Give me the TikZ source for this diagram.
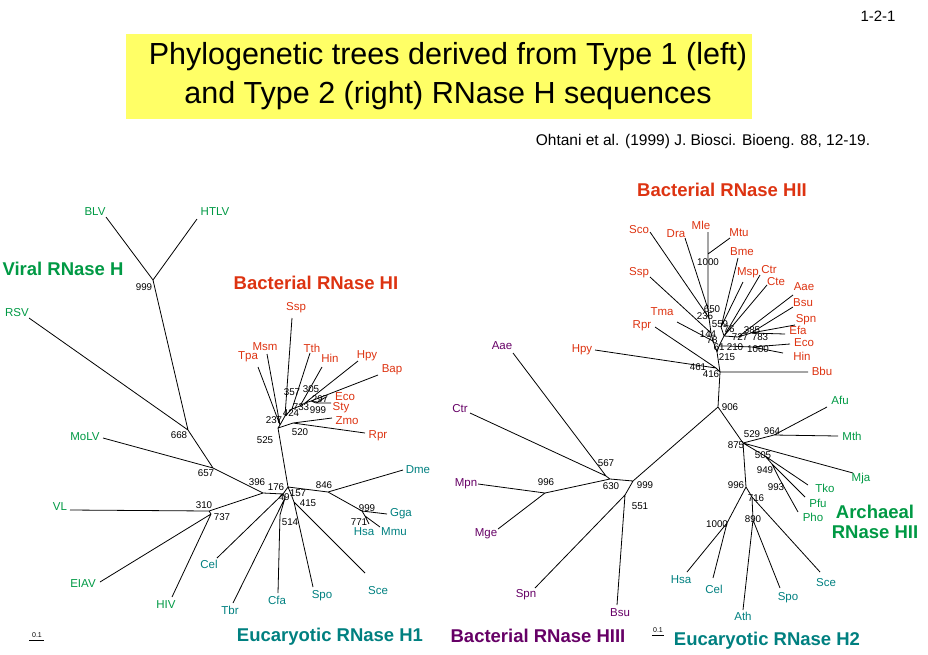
\documentclass[tikz,border=0pt]{standalone}
\usepackage{fontspec}
\setmainfont{Liberation Sans}
\usetikzlibrary{positioning}
\definecolor{virgreen}{RGB}{0,153,68}
\definecolor{bacred}{RGB}{221,51,17}
\definecolor{eucteal}{RGB}{0,128,128}
\definecolor{bacpurple}{RGB}{102,0,102}
\definecolor{titleyellow}{RGB}{255,255,102}

\begin{document}
\begin{tikzpicture}[x=1pt, y=-1pt,
    leaf/.style={inner sep=0pt, text=#1, font=\fontsize{11.5}{12}\selectfont},
    boot/.style={inner sep=0pt, font=\fontsize{9.8}{10}\selectfont},
    group/.style={inner sep=0pt, text=#1, align=center, font=\fontsize{18.5}{20}\selectfont\bfseries},
    branch/.style={line width=0.8pt}]
    \useasboundingbox (0,0) rectangle (928,654);

    % header
    \fill[titleyellow] (126,34) rectangle (752,119);
    \node[align=center, font=\fontsize{30.5}{39}\selectfont] (title) at (448,76) {Phylogenetic trees derived from Type 1 (left)\\and Type 2 (right) RNase H sequences};
    \node[inner sep=0pt, font=\fontsize{15}{16}\selectfont] (page) at (878,16) {1-2-1};
    \node[inner sep=0pt, font=\fontsize{15.5}{17}\selectfont] (cite) at (703,141) {Ohtani et al. (1999) J. Biosci. Bioeng. 88, 12-19.};

    % ---------- Type 1 tree ----------
    \coordinate (v999) at (153,280);  \coordinate (v668) at (188,430);
    \coordinate (v657) at (213,468);  \coordinate (v396) at (263,493);
    \coordinate (v310) at (209,511);  \coordinate (v737) at (211,514);
    \coordinate (v176) at (283,494);  \coordinate (v49) at (285,498);
    \coordinate (v514) at (280,515);  \coordinate (c1) at (288,487);
    \coordinate (v157) at (291,494);  \coordinate (v415) at (294,502);
    \coordinate (v846) at (328,492);  \coordinate (v999e) at (362,511);
    \coordinate (v771) at (365,516);  \coordinate (v525) at (278,428);
    \coordinate (v237) at (280,425);  \coordinate (v520) at (293,423);
    \coordinate (v424) at (285,416);  \coordinate (v357) at (292,409);
    \coordinate (v733) at (300,406);  \coordinate (v305) at (305,403);
    \coordinate (v297) at (311,401);  \coordinate (v999b) at (316,403);

    % leaf tips
    \coordinate (tBLV) at (106,217);  \coordinate (tHTLV) at (197,219);
    \coordinate (tRSV) at (29,318);   \coordinate (tMoLV) at (103,438);
    \coordinate (tVL) at (70,510);    \coordinate (tEIAV) at (100,582);
    \coordinate (tHIV) at (172,597);  \coordinate (tCel) at (217,558);
    \coordinate (tTbr) at (233,603);  \coordinate (tCfa) at (278,593);
    \coordinate (tSpo) at (313,587);  \coordinate (tSce) at (365,573);
    \coordinate (tDme) at (403,470);  \coordinate (tGga) at (387,514);
    \coordinate (tHsa) at (369,524);  \coordinate (tMmu) at (380,527);
    \coordinate (tTpa) at (258,367);  \coordinate (tMsm) at (267,354);
    \coordinate (tSsp) at (292,318);  \coordinate (tTth) at (310,353);
    \coordinate (tHin) at (322,367);  \coordinate (tHpy) at (358,361);
    \coordinate (tBap) at (378,375);  \coordinate (tEco) at (326,397);
    \coordinate (tSty) at (331,403);  \coordinate (tZmo) at (332,418);
    \coordinate (tRpr) at (365,433);

    \draw[branch] (v999) -- (tBLV) (v999) -- (tHTLV) (v999) -- (v668)
        (v668) -- (tRSV) (v668) -- (v657) (v657) -- (tMoLV) (v657) -- (v396)
        (v396) -- (v310) (v310) -- (tVL) (v310) -- (v737)
        (v737) -- (tEIAV) (v737) -- (tHIV)
        (v396) -- (v176) (v176) -- (tCel) (v176) -- (c1) (v176) -- (v49)
        (v49) -- (tTbr) (v49) -- (v514) (v514) -- (tCfa)
        (c1) -- (v157) (v157) -- (v415) (v415) -- (tSpo) (v415) -- (tSce)
        (c1) -- (v846) (v846) -- (tDme) (v846) -- (v999e) (v999e) -- (tGga)
        (v999e) -- (v771) (v771) -- (tHsa) (v771) -- (tMmu)
        (c1) -- (v525) (v525) -- (v237) (v237) -- (tTpa) (v237) -- (tMsm)
        (v525) -- (v520) (v520) -- (tZmo) (v520) -- (tRpr)
        (v237) -- (v424) (v424) -- (tSsp) (v424) -- (v357) (v357) -- (tTth)
        (v357) -- (v733) (v733) -- (tHin) (v733) -- (v305) (v305) -- (tHpy)
        (v305) -- (v297) (v297) -- (tBap) (v297) -- (v999b)
        (v999b) -- (tEco) (v999b) -- (tSty);

    \node[leaf=virgreen] (BLV) at (95,212) {BLV};
    \node[leaf=virgreen] (HTLV) at (215,212) {HTLV};
    \node[leaf=virgreen] (RSV) at (17,313) {RSV};
    \node[leaf=virgreen] (MoLV) at (85,437) {MoLV};
    \node[leaf=virgreen] (VL) at (60,507) {VL};
    \node[leaf=virgreen] (EIAV) at (83,584) {EIAV};
    \node[leaf=virgreen] (HIV) at (166,605) {HIV};
    \node[leaf=eucteal] (Cel) at (209,564) {Cel};
    \node[leaf=eucteal] (Tbr) at (230,610) {Tbr};
    \node[leaf=eucteal] (Cfa) at (277,600) {Cfa};
    \node[leaf=eucteal] (Spo) at (322,596) {Spo};
    \node[leaf=eucteal] (Sce) at (378,591) {Sce};
    \node[leaf=eucteal] (Dme) at (418,470) {Dme};
    \node[leaf=eucteal] (Gga) at (401,514) {Gga};
    \node[leaf=eucteal] (Hsa) at (364,532) {Hsa};
    \node[leaf=eucteal] (Mmu) at (394,532) {Mmu};
    \node[leaf=bacred] (Tpa) at (248,357) {Tpa};
    \node[leaf=bacred] (Msm) at (265,347) {Msm};
    \node[leaf=bacred] (Ssp) at (296,308) {Ssp};
    \node[leaf=bacred] (Tth) at (312,348) {Tth};
    \node[leaf=bacred] (Hin) at (330,358) {Hin};
    \node[leaf=bacred] (Hpy) at (367,356) {Hpy};
    \node[leaf=bacred] (Bap) at (392,370) {Bap};
    \node[leaf=bacred] (Eco) at (345,397) {Eco};
    \node[leaf=bacred] (Sty) at (341,408) {Sty};
    \node[leaf=bacred] (Zmo) at (347,421) {Zmo};
    \node[leaf=bacred] (Rpr) at (378,436) {Rpr};

    \node[boot] (b999) at (144,287) {999};
    \node[boot] (b668) at (179,435) {668};
    \node[boot] (b657) at (206,473) {657};
    \node[boot] (b396) at (257,482) {396};
    \node[boot] (b176) at (276,487) {176};
    \node[boot] (b49) at (284,497) {49};
    \node[boot] (b157) at (298,493) {157};
    \node[boot] (b415) at (308,503) {415};
    \node[boot] (b514) at (290,522) {514};
    \node[boot] (b846) at (324,485) {846};
    \node[boot] (b999e) at (367,508) {999};
    \node[boot] (b771) at (359,522) {771};
    \node[boot] (b310) at (204,505) {310};
    \node[boot] (b737) at (222,517) {737};
    \node[boot] (b525) at (265,440) {525};
    \node[boot] (b237) at (274,420) {237};
    \node[boot] (b424) at (291,413) {424};
    \node[boot] (b357) at (292,392) {357};
    \node[boot] (b305) at (311,389) {305};
    \node[boot] (b297) at (320,399) {297};
    \node[boot] (b733) at (301,407) {733};
    \node[boot] (b999b) at (318,410) {999};
    \node[boot] (b520) at (300,432) {520};

    % ---------- Type 2 tree ----------
    \coordinate (nB) at (720,372);     \coordinate (n461) at (716,368);
    \coordinate (n215) at (717,352);   \coordinate (n612) at (719,346);
    \coordinate (n78) at (713,341);    \coordinate (n144) at (711,333);
    \coordinate (n235) at (709,318);   \coordinate (n650) at (708,309);
    \coordinate (n1000m) at (708,254); \coordinate (n559) at (721,327);
    \coordinate (n76) at (724,336);    \coordinate (n727) at (738,337);
    \coordinate (n385) at (751,333);   \coordinate (n210) at (728,346);
    \coordinate (n1000e) at (752,347); \coordinate (n906) at (718,407);
    \coordinate (n875) at (743,443);   \coordinate (n964) at (774,435);
    \coordinate (n505) at (765,456);   \coordinate (n949) at (772,464);
    \coordinate (n993) at (779,478);   \coordinate (n996e) at (746,487);
    \coordinate (n1000h) at (727,523); \coordinate (n716) at (752,497);
    \coordinate (n890) at (753,520);   \coordinate (n999c) at (633,481);
    \coordinate (n630) at (610,479);   \coordinate (n567) at (606,476);
    \coordinate (n996m) at (545,493);  \coordinate (n551) at (625,495);

    % leaf tips
    \coordinate (sSco) at (650,232);  \coordinate (sDra) at (685,238);
    \coordinate (sMle) at (708,232);  \coordinate (sMtu) at (730,238);
    \coordinate (sBme) at (738,258);  \coordinate (sMsp) at (743,282);
    \coordinate (sCtr) at (760,275);  \coordinate (sCte) at (767,285);
    \coordinate (sAae) at (793,295);  \coordinate (sBsu) at (793,307);
    \coordinate (sSpn) at (795,325);  \coordinate (sEfa) at (785,334);
    \coordinate (sEco) at (790,344);  \coordinate (sHin) at (783,353);
    \coordinate (sBbu) at (808,372);  \coordinate (sSsp) at (650,277);
    \coordinate (sTma) at (677,322);  \coordinate (sRpr) at (655,327);
    \coordinate (sHpy) at (595,350);
    \coordinate (sAfu) at (827,407);  \coordinate (sMth) at (838,436);
    \coordinate (sMja) at (853,473);  \coordinate (sTko) at (808,485);
    \coordinate (sPfu) at (805,497);  \coordinate (sPho) at (798,512);
    \coordinate (sHsa) at (687,572);  \coordinate (sCel) at (713,578);
    \coordinate (sAth) at (743,610);  \coordinate (sSpo) at (780,588);
    \coordinate (sSce) at (820,572);
    \coordinate (pAae) at (513,353);  \coordinate (pCtr) at (470,413);
    \coordinate (pMpn) at (478,484);  \coordinate (pMge) at (498,529);
    \coordinate (pSpn) at (535,588);  \coordinate (pBsu) at (617,605);

    \draw[branch] (nB) -- (sBbu) (nB) -- (n461) (n461) -- (sHpy) (n461) -- (sRpr)
        (nB) -- (n215) (n215) -- (n78) (n215) -- (n612)
        (n78) -- (sTma) (n78) -- (n144) (n144) -- (sSsp) (n144) -- (n235)
        (n235) -- (sSco) (n235) -- (n650) (n650) -- (sDra) (n650) -- (n1000m)
        (n1000m) -- (sMle) (n1000m) -- (sMtu)
        (n612) -- (n76) (n76) -- (n559) (n559) -- (sBme) (n559) -- (sMsp)
        (n76) -- (sCtr) (n76) -- (sCte) (n76) -- (n727) (n727) -- (sAae)
        (n727) -- (n385) (n385) -- (sBsu) (n385) -- (sSpn) (n385) -- (sEfa)
        (n612) -- (n210) (n210) -- (n1000e) (n1000e) -- (sEco) (n1000e) -- (sHin)
        (nB) -- (n906) (n906) -- (n875) (n875) -- (n964) (n964) -- (sAfu)
        (n964) -- (sMth) (n875) -- (sMja) (n875) -- (n505) (n505) -- (sTko)
        (n505) -- (n949) (n949) -- (sPfu) (n949) -- (n993) (n993) -- (sPho)
        (n875) -- (n996e) (n996e) -- (n1000h) (n1000h) -- (sHsa) (n1000h) -- (sCel)
        (n996e) -- (n716) (n716) -- (sSce) (n716) -- (n890)
        (n890) -- (sAth) (n890) -- (sSpo)
        (n906) -- (n999c) (n999c) -- (n630) (n630) -- (n567)
        (n567) -- (pAae) (n567) -- (pCtr) (n630) -- (n996m)
        (n996m) -- (pMpn) (n996m) -- (pMge)
        (n999c) -- (n551) (n551) -- (pSpn) (n551) -- (pBsu);

    \node[leaf=bacred] (Sco) at (639,230) {Sco};
    \node[leaf=bacred] (Dra) at (676,234) {Dra};
    \node[leaf=bacred] (Mle) at (701,225) {Mle};
    \node[leaf=bacred] (Mtu) at (739,233) {Mtu};
    \node[leaf=bacred] (Bme) at (742,252) {Bme};
    \node[leaf=bacred] (Msp) at (748,273) {Msp};
    \node[leaf=bacred] (Ctr) at (769,270) {Ctr};
    \node[leaf=bacred] (Cte) at (776,282) {Cte};
    \node[leaf=bacred] (Aae) at (804,287) {Aae};
    \node[leaf=bacred] (Bsu) at (803,303) {Bsu};
    \node[leaf=bacred] (Spn) at (806,320) {Spn};
    \node[leaf=bacred] (Efa) at (798,330) {Efa};
    \node[leaf=bacred] (EcoR) at (804,343) {Eco};
    \node[leaf=bacred] (HinR) at (802,356) {Hin};
    \node[leaf=bacred] (Bbu) at (822,371) {Bbu};
    \node[leaf=bacred] (SspR) at (639,273) {Ssp};
    \node[leaf=bacred] (Tma) at (662,312) {Tma};
    \node[leaf=bacred] (RprR) at (642,326) {Rpr};
    \node[leaf=bacred] (HpyR) at (582,350) {Hpy};
    \node[leaf=virgreen] (Afu) at (840,400) {Afu};
    \node[leaf=virgreen] (Mth) at (852,436) {Mth};
    \node[leaf=virgreen] (Mja) at (861,479) {Mja};
    \node[leaf=virgreen] (Tko) at (825,488) {Tko};
    \node[leaf=virgreen] (Pfu) at (818,503) {Pfu};
    \node[leaf=virgreen] (Pho) at (813,517) {Pho};
    \node[leaf=eucteal] (HsaR) at (681,580) {Hsa};
    \node[leaf=eucteal] (CelR) at (714,589) {Cel};
    \node[leaf=eucteal] (Ath) at (743,616) {Ath};
    \node[leaf=eucteal] (SpoR) at (788,598) {Spo};
    \node[leaf=eucteal] (SceR) at (826,583) {Sce};
    \node[leaf=bacpurple] (AaeP) at (502,346) {Aae};
    \node[leaf=bacpurple] (CtrP) at (460,409) {Ctr};
    \node[leaf=bacpurple] (Mpn) at (466,484) {Mpn};
    \node[leaf=bacpurple] (Mge) at (486,534) {Mge};
    \node[leaf=bacpurple] (SpnP) at (526,595) {Spn};
    \node[leaf=bacpurple] (BsuP) at (620,613) {Bsu};

    \node[boot] (c1000m) at (708,262) {1000};
    \node[boot] (c650) at (712,309) {650};
    \node[boot] (c235) at (705,316) {235};
    \node[boot] (c559) at (720,324) {559};
    \node[boot] (c144) at (708,334) {144};
    \node[boot] (c76) at (729,329) {76};
    \node[boot] (c78) at (712,340) {78};
    \node[boot] (c385) at (752,330) {385};
    \node[boot] (c727) at (740,337) {727};
    \node[boot] (c783) at (760,337) {783};
    \node[boot] (c61) at (719,347) {61};
    \node[boot] (c210) at (735,347) {210};
    \node[boot] (c1000e) at (758,349) {1000};
    \node[boot] (c215) at (727,357) {215};
    \node[boot] (c461) at (698,367) {461};
    \node[boot] (c416) at (711,374) {416};
    \node[boot] (c906) at (730,407) {906};
    \node[boot] (c529) at (752,434) {529};
    \node[boot] (c964) at (772,431) {964};
    \node[boot] (c875) at (736,445) {875};
    \node[boot] (c505) at (763,455) {505};
    \node[boot] (c949) at (765,470) {949};
    \node[boot] (c993) at (776,487) {993};
    \node[boot] (c996e) at (736,485) {996};
    \node[boot] (c716) at (756,498) {716};
    \node[boot] (c890) at (753,519) {890};
    \node[boot] (c1000h) at (717,524) {1000};
    \node[boot] (c567) at (606,463) {567};
    \node[boot] (c630) at (611,486) {630};
    \node[boot] (c999c) at (645,485) {999};
    \node[boot] (c996m) at (546,482) {996};
    \node[boot] (c551) at (640,506) {551};

    % group names
    \node[group=virgreen] (gViral) at (63,269) {Viral RNase H};
    \node[group=bacred] (gBacHI) at (316,283) {Bacterial RNase HI};
    \node[group=eucteal] (gEucH1) at (330,637) {Eucaryotic RNase H1};
    \node[group=bacred] (gBacHII) at (722,190) {Bacterial RNase HII};
    \node[group=bacpurple] (gBacHIII) at (538,636) {Bacterial RNase HIII};
    \node[group=virgreen] (gArch) at (875,522) {Archaeal\\RNase HII};
    \node[group=eucteal] (gEucH2) at (767,641) {Eucaryotic RNase H2};

    % scale bars
    \node[inner sep=0pt, font=\fontsize{7}{8}\selectfont] (scaleL) at (37,635) {0.1};
    \draw[line width=0.7pt] (29,640) -- (44,640);
    \node[inner sep=0pt, font=\fontsize{7}{8}\selectfont] (scaleR) at (658,630) {0.1};
    \draw[line width=0.7pt] (652,635) -- (664,635);
\end{tikzpicture}
\end{document}
